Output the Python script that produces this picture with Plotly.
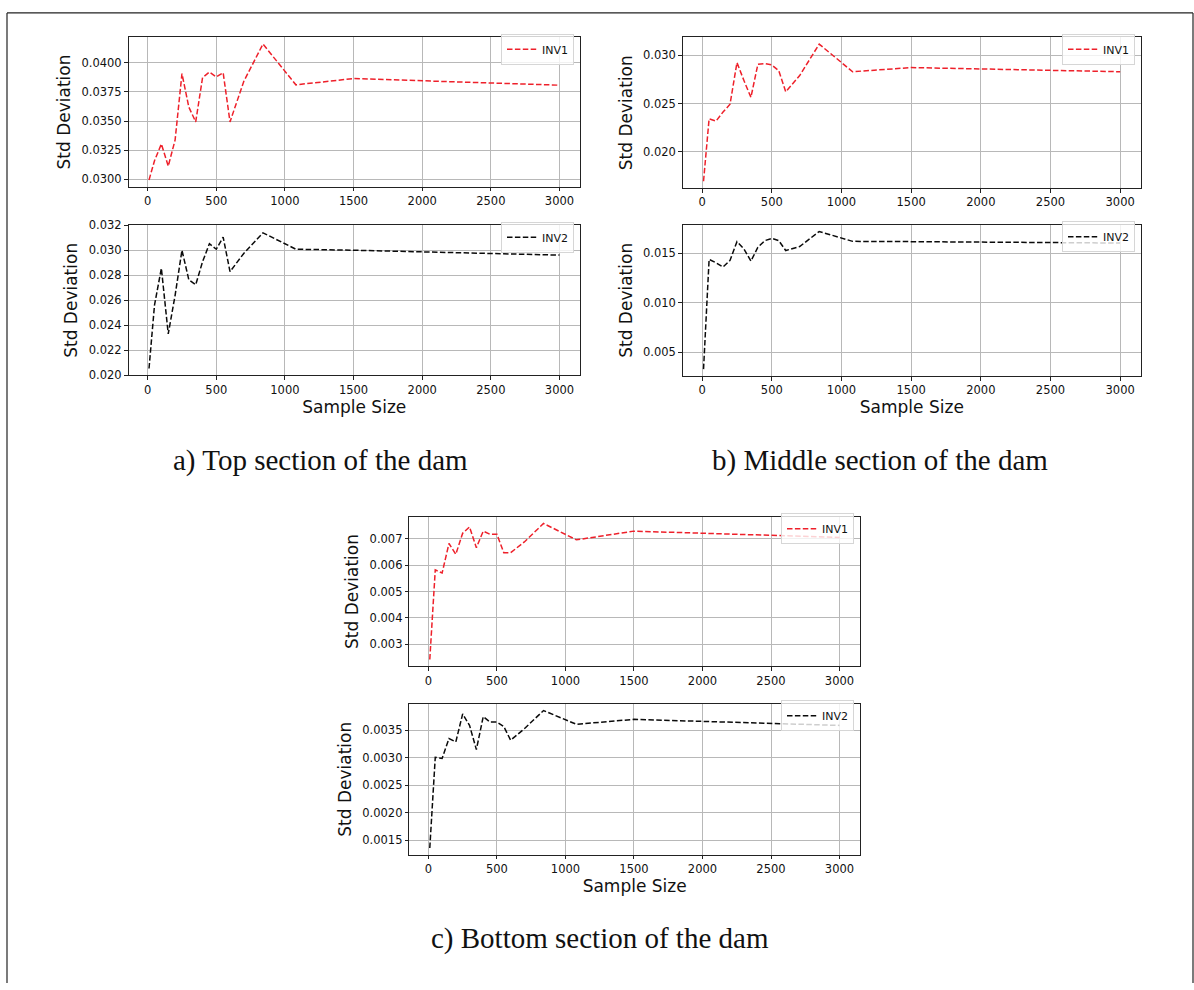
import plotly.graph_objects as go

# Sample sizes used for every section
sample_size = [10, 50, 100, 150, 200, 250, 300, 350, 400, 450, 500, 550, 600, 700, 840, 1080, 1500, 3000]

# Standard deviation of the inversion results, per dam section
top_inv1 = [0.02995, 0.03160, 0.03304, 0.03113, 0.03338, 0.03907, 0.03620, 0.03493, 0.03873,
            0.03921, 0.03879, 0.03915, 0.03493, 0.03840, 0.04161, 0.03811, 0.03865, 0.03808]
top_inv2 = [0.02055, 0.02562, 0.02856, 0.02331, 0.02640, 0.03000, 0.02764, 0.02724, 0.02908,
            0.03052, 0.03008, 0.03105, 0.02829, 0.02974, 0.03139, 0.03008, 0.03000, 0.02961]
mid_inv1 = [0.01698, 0.02342, 0.02319, 0.02413, 0.02493, 0.02923, 0.02738, 0.02564, 0.02906,
            0.02913, 0.02899, 0.02839, 0.02621, 0.02789, 0.03114, 0.02829, 0.02872, 0.02829]
mid_inv2 = [0.00327, 0.01437, 0.01403, 0.01360, 0.01427, 0.01617, 0.01543, 0.01420, 0.01560,
            0.01627, 0.01650, 0.01627, 0.01527, 0.01567, 0.01720, 0.01620, 0.01617, 0.01603]
bot_inv1 = [0.00242, 0.00582, 0.00570, 0.00682, 0.00641, 0.00721, 0.00745, 0.00666, 0.00729,
            0.00717, 0.00717, 0.00647, 0.00647, 0.00688, 0.00758, 0.00696, 0.00729, 0.00705]
bot_inv2 = [0.00136, 0.00301, 0.00299, 0.00335, 0.00329, 0.00380, 0.00359, 0.00315, 0.00375,
            0.00365, 0.00365, 0.00357, 0.00332, 0.00353, 0.00386, 0.00361, 0.00370, 0.00359]

captions = ["a) Top section of the dam", "b) Middle section of the dam", "c) Bottom section of the dam"]

W, H = 1194, 990
RED = "rgb(238,32,42)"
BLACK = "rgb(10,10,10)"
DASH = "5.5px,2.4px"
SANS = "DejaVu Sans"


def px_x(v):
    return v / W


def px_y(v):
    return 1 - v / H


def pad(vals, frac=0.05):
    lo, hi = min(vals), max(vals)
    m = (hi - lo) * frac
    return [lo - m, hi + m]


# panel: (series, name, colour, x-domain px, y-domain px, y dtick, y format, y range, show x title)
panels = [
    (top_inv1, "INV1", RED, (128.5, 580), (30.7, 182.3), 0.0025, ".4f", None, False),
    (top_inv2, "INV2", BLACK, (128.5, 580), (221.3, 373.7), 0.002, ".3f", [0.0200, 0.0320], True),
    (mid_inv1, "INV1", RED, (682.7, 1141), (30.7, 183.7), 0.005, ".3f", None, False),
    (mid_inv2, "INV2", BLACK, (682.7, 1141), (220.7, 374.3), 0.005, ".3f", None, True),
    (bot_inv1, "INV1", RED, (409.3, 860), (517, 668.7), 0.001, ".3f", None, False),
    (bot_inv2, "INV2", BLACK, (409.3, 860), (706.7, 860), 0.0005, ".4f", None, True),
]

fig = go.Figure()
layout = dict(
    width=W, height=H,
    margin=dict(l=0, r=0, t=0, b=0),
    paper_bgcolor="white", plot_bgcolor="white",
    font=dict(family=SANS, size=11.5, color="black"),
    showlegend=True,
)

x_range = pad(sample_size)

for i, (ys, name, col, xd, yd, dt, fmt, yr, xtitle) in enumerate(panels, start=1):
    sfx = "" if i == 1 else str(i)
    leg = "legend" if i == 1 else f"legend{i}"
    fig.add_trace(go.Scatter(
        x=sample_size, y=ys, name=name, mode="lines",
        line=dict(color=col, width=1.5, dash=DASH),
        xaxis=f"x{sfx}", yaxis=f"y{sfx}", legend=leg,
    ))
    axis_common = dict(
        showline=True, mirror=True, linecolor="#222", linewidth=1,
        showgrid=True, gridcolor="#b8b8b8", gridwidth=0.8,
        zeroline=False, ticks="outside", ticklen=3.5, tickwidth=0.8, tickcolor="#222",
        tickfont=dict(family=SANS, size=11.5, color="#111"),
    )
    layout[f"xaxis{sfx}"] = dict(
        axis_common, domain=[px_x(xd[0]), px_x(xd[1])], anchor=f"y{sfx}",
        range=x_range, tick0=0, dtick=500,
        title=dict(text="Sample Size" if xtitle else "", font=dict(family=SANS, size=17, color="#111"), standoff=4),
    )
    layout[f"yaxis{sfx}"] = dict(
        axis_common, domain=[px_y(yd[1]), px_y(yd[0])], anchor=f"x{sfx}",
        range=yr if yr else pad(ys), dtick=dt, tickformat=fmt,
        title=dict(text="Std Deviation", font=dict(family=SANS, size=17, color="#111"), standoff=6),
    )
    layout[leg] = dict(
        x=px_x(xd[1] - 6), y=px_y(yd[0] - 3.5), xanchor="right", yanchor="top",
        bgcolor="rgba(255,255,255,0.8)", bordercolor="#d6d6d6", borderwidth=1,
        font=dict(family=SANS, size=11, color="#111"), itemwidth=30,
        tracegroupgap=0,
    )

# Sub-figure captions
caption_pos = [(320, 460), (880, 460), (600, 945)]
layout["annotations"] = [
    dict(text=t, x=px_x(cx), y=px_y(cy), xref="paper", yref="paper",
         xanchor="center", yanchor="middle", showarrow=False,
         font=dict(family="Liberation Serif", size=29, color="#111"))
    for t, (cx, cy) in zip(captions, caption_pos)
]

# Outer frame (open at the bottom)
frame = dict(type="line", xref="paper", yref="paper", line=dict(color="#222", width=1.2))
layout["shapes"] = [
    dict(frame, x0=px_x(7), x1=px_x(1193), y0=px_y(6), y1=px_y(6)),
    dict(frame, x0=px_x(7), x1=px_x(7), y0=px_y(6), y1=0),
    dict(frame, x0=px_x(1193), x1=px_x(1193), y0=px_y(6), y1=0),
]

fig.update_layout(**layout)
fig.write_html("out.html")
